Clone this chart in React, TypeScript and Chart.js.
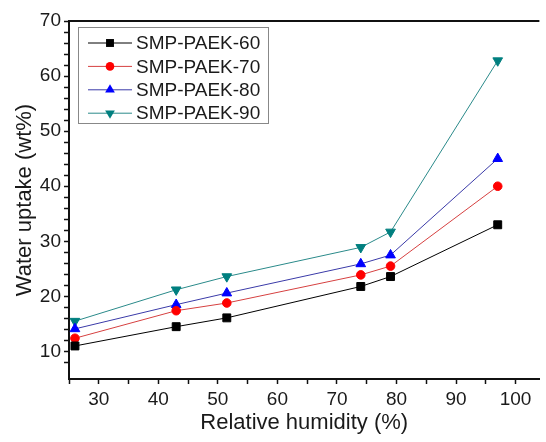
import React, { useEffect, useRef } from 'react';
import { Chart, registerables } from 'chart.js';

Chart.register(...registerables);

// ---- data ----
const humidity = [26, 43, 51.5, 74, 79, 97];
const paek60 = [11.0, 14.5, 16.1, 21.8, 23.6, 33.0];
const paek70 = [12.4, 17.4, 18.8, 23.9, 25.5, 40.0];
const paek80 = [14.1, 18.5, 20.6, 25.9, 27.5, 45.0];
const paek90 = [15.5, 21.2, 23.6, 28.9, 31.7, 62.8];
const seriesNames = ['SMP-PAEK-60', 'SMP-PAEK-70', 'SMP-PAEK-80', 'SMP-PAEK-90'];
const xTickLabels = [30, 40, 50, 60, 70, 80, 90, 100];
const yTickLabels = [10, 20, 30, 40, 50, 60, 70];

const FONT = '"Liberation Sans", Arial, sans-serif';

function drawMarker(ctx: CanvasRenderingContext2D, style: string, rot: number, x: number, y: number, r: number, color: string) {
  ctx.save();
  ctx.fillStyle = color;
  ctx.beginPath();
  if (style === 'rect') {
    const s = r * Math.SQRT1_2;
    ctx.rect(x - s, y - s, 2 * s, 2 * s);
  } else if (style === 'circle') {
    ctx.arc(x, y, r, 0, Math.PI * 2);
  } else {
    let a = (rot * Math.PI) / 180;
    for (let k = 0; k < 3; k++) {
      const px = x + Math.sin(a) * r;
      const py = y - Math.cos(a) * r;
      if (k === 0) ctx.moveTo(px, py);
      else ctx.lineTo(px, py);
      a += (2 * Math.PI) / 3;
    }
    ctx.closePath();
  }
  ctx.fill();
  ctx.restore();
}

const framePlugin = {
  id: 'frame',
  afterDraw(chart: any) {
    const { ctx, chartArea } = chart;
    ctx.save();
    ctx.strokeStyle = '#111';
    ctx.lineWidth = 2;
    ctx.beginPath();
    ctx.moveTo(chartArea.left - 1, chartArea.top);
    ctx.lineTo(chartArea.right, chartArea.top);
    ctx.stroke();

    // legend box
    const lx = chartArea.left + 9;
    const ly = chartArea.top + 6;
    ctx.strokeStyle = '#888';
    ctx.lineWidth = 1;
    ctx.strokeRect(Math.round(lx) + 0.5, Math.round(ly) + 0.5, 190, 96);
    chart.data.datasets.forEach((ds: any, i: number) => {
      const y = ly + 16 + i * 23.4;
      ctx.strokeStyle = ds.borderColor;
      ctx.lineWidth = 1;
      ctx.beginPath();
      ctx.moveTo(lx + 10, y);
      ctx.lineTo(lx + 54, y);
      ctx.stroke();
      drawMarker(ctx, ds.pointStyle, ds.pointRotation || 0, lx + 32, y, ds.pointRadius, ds.pointBackgroundColor);
      ctx.fillStyle = '#1a1a1a';
      ctx.font = `19px ${FONT}`;
      ctx.textBaseline = 'middle';
      ctx.textAlign = 'left';
      ctx.fillText(ds.label, lx + 58, y + 1);
    });
    ctx.restore();
  },
};

export default function App() {
  const ref = useRef<HTMLCanvasElement>(null);
  useEffect(() => {
    if (!ref.current) return;
    const mk = (vals: number[]) => humidity.map((x, i) => ({ x, y: vals[i] }));
    const chart = new Chart(ref.current, {
      type: 'line',
      data: {
        datasets: [
          { label: seriesNames[0], data: mk(paek60), borderColor: '#000000', pointBackgroundColor: '#000000', pointBorderColor: '#000000', pointStyle: 'rect', pointRadius: 5.6, borderWidth: 1 },
          { label: seriesNames[1], data: mk(paek70), borderColor: '#d64040', pointBackgroundColor: '#ff0000', pointBorderColor: '#ff0000', pointStyle: 'circle', pointRadius: 4.3, borderWidth: 1 },
          { label: seriesNames[2], data: mk(paek80), borderColor: '#3a3aa8', pointBackgroundColor: '#0000ff', pointBorderColor: '#0000ff', pointStyle: 'triangle', pointRadius: 5.6, borderWidth: 1 },
          { label: seriesNames[3], data: mk(paek90), borderColor: '#2a8a8a', pointBackgroundColor: '#007f7f', pointBorderColor: '#007f7f', pointStyle: 'triangle', pointRotation: 180, pointRadius: 5.6, borderWidth: 1 },
        ] as any,
      },
      options: {
        animation: false,
        responsive: false,
        devicePixelRatio: 1,
        layout: { padding: { top: 21, right: 0, bottom: 0, left: 0 } },
        plugins: { legend: { display: false }, tooltip: { enabled: false } },
        elements: { point: { borderWidth: 0 }, line: { tension: 0 } },
        scales: {
          x: {
            type: 'linear',
            min: 25,
            max: 104,
            afterFit: (s: any) => { s.height = 63; },
            ticks: {
              stepSize: 5,
              includeBounds: false,
              autoSkip: false,
              maxRotation: 0,
              padding: 4,
              color: '#1a1a1a',
              font: { size: 19, family: FONT },
              callback: (v: any) => (xTickLabels.includes(Number(v)) ? String(v) : ''),
            },
            grid: {
              drawOnChartArea: false,
              tickLength: 5,
              tickColor: (c: any) => (c.tick && Number(c.tick.value) % 5 === 0 ? '#111' : 'rgba(0,0,0,0)'),
              tickWidth: 1.5,
            },
            border: { color: '#111', width: 2 },
            title: { display: true, text: 'Relative humidity (%)', color: '#1a1a1a', font: { size: 22, family: FONT }, padding: { top: 0, bottom: 6 } },
          },
          y: {
            type: 'linear',
            min: 5,
            max: 70,
            afterFit: (s: any) => { s.width = 69; },
            ticks: {
              stepSize: 2,
              autoSkip: false,
              padding: 3,
              color: '#1a1a1a',
              font: { size: 19, family: FONT },
              callback: (v: any) => (yTickLabels.includes(Number(v)) ? String(v) : ''),
            },
            grid: {
              drawOnChartArea: false,
              tickLength: 5,
              tickColor: (c: any) => (c.tick && Number(c.tick.value) % 2 === 0 ? '#111' : 'rgba(0,0,0,0)'),
              tickWidth: 1.5,
            },
            border: { color: '#111', width: 2 },
            title: { display: true, text: 'Water uptake (wt%)', color: '#1a1a1a', font: { size: 22, family: FONT }, padding: { top: 12, bottom: 0 } },
          },
        },
      },
      plugins: [framePlugin],
    });
    return () => chart.destroy();
  }, []);
  return (
    <div style={{ position: 'fixed', left: 0, top: 0, width: 546, height: 442, background: '#fff' }}>
      <canvas ref={ref} width={546} height={442} />
    </div>
  );
}
